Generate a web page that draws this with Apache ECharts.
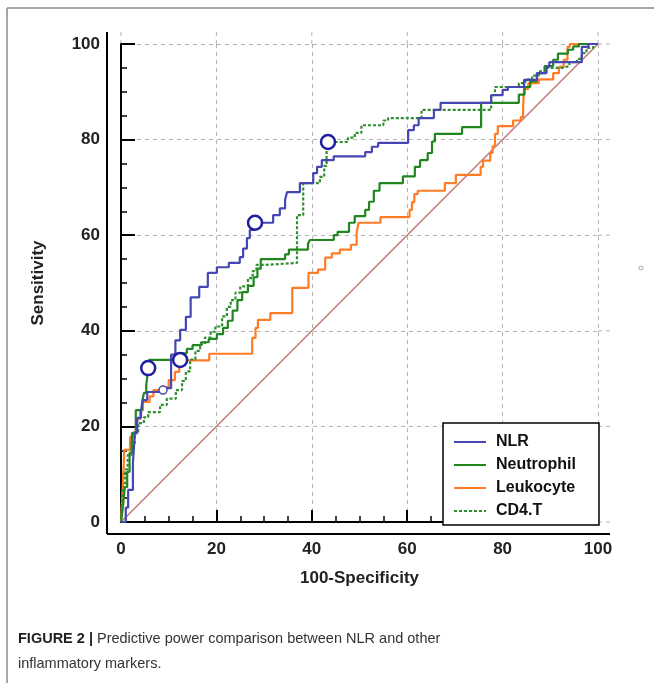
<!DOCTYPE html>
<html><head><meta charset="utf-8">
<script src="https://cdn.jsdelivr.net/npm/echarts@6/dist/echarts.min.js"></script>
<style>html,body{margin:0;padding:0;background:#fff;}#c{width:654px;height:683px;}</style>
</head><body><div id="c"></div>
<script>
const seriesNames = ['NLR', 'Neutrophil', 'Leukocyte', 'CD4.T'];
const xTicks = [0, 20, 40, 60, 80, 100];
const yTicks = [0, 20, 40, 60, 80, 100];
const xTitle = '100-Specificity';
const yTitle = 'Sensitivity';
const refLine = [[0, 0], [100, 100]];

const nlr = [[0,0],[1,0],[1,3],[1.5,3],[1.5,6.7],[2.5,6.7],[2.5,12.3],[2.9,12.3],[2.9,18.6],[3.4,18.6],[3.4,21.8],[4.2,21.8],[4.2,23.4],[4.6,23.4],[4.6,25.5],[5.5,25.5],[5.5,27.2],[8.8,27.2],[8.8,28],[10.5,28],[10.5,35],[11.4,35],[11.4,38],[12.4,38],[12.4,40.2],[13.6,40.2],[13.6,42.9],[14.6,42.9],[14.6,47],[16.4,47],[16.4,49.2],[18.2,49.2],[18.2,52.1],[20.1,52.1],[20.1,53.3],[22.6,53.3],[22.6,54.2],[24.9,54.2],[24.9,55.4],[25.6,55.4],[25.6,57.2],[26.4,57.2],[26.4,59.4],[27,59.4],[27,61.1],[27.8,61.1],[27.8,62.6],[31.9,62.6],[31.9,64.2],[33.3,64.2],[33.3,65.6],[34.4,65.6],[34.4,67.4],[34.8,67.4],[34.8,69],[37.5,69],[37.5,70.9],[40.3,70.9],[40.3,73],[41.1,73],[41.1,74.3],[42.1,74.3],[42.1,75.7],[44.6,75.7],[44.6,76.5],[51.2,76.5],[51.2,77.4],[52.6,77.4],[52.6,78.5],[53.9,78.5],[53.9,79.3],[60.2,79.3],[60.2,82],[61.4,82],[61.4,83],[62.4,83],[62.4,84.5],[65.6,84.5],[65.6,86.2],[67,86.2],[67,87.7],[77.6,87.7],[77.6,89.3],[80,89.3],[80,90.4],[81.1,90.4],[81.1,91],[84.5,91],[84.5,92.5],[87.2,92.5],[87.2,93.9],[89.2,93.9],[89.2,95.2],[89.8,95.2],[89.8,96.2],[96.6,96.2],[96.6,99.4],[98,99.4],[98,100],[100,100]];

const neutrophil = [[0,0],[0.4,0],[0.4,3.1],[0.8,3.1],[0.8,7.3],[1.3,7.3],[1.3,10.5],[1.8,10.5],[1.8,14.5],[2.3,14.5],[2.3,18.6],[3.1,18.6],[3.1,23.4],[4.4,23.4],[4.4,24.9],[4.8,24.9],[4.8,27],[5.3,27],[5.3,28.7],[5.6,28.7],[5.6,31.2],[5.9,31.2],[5.9,33.9],[11,33.9],[11,34.3],[12.8,34.3],[12.8,35.3],[13.8,35.3],[13.8,36.2],[15,36.2],[15,37],[16.8,37],[16.8,37.6],[18.4,37.6],[18.4,38.3],[20.1,38.3],[20.1,39.3],[21.4,39.3],[21.4,40.6],[22.4,40.6],[22.4,42.1],[23.4,42.1],[23.4,44.2],[24.4,44.2],[24.4,46.4],[25.4,46.4],[25.4,48.1],[26.6,48.1],[26.6,49.4],[27.8,49.4],[27.8,51.2],[28.6,51.2],[28.6,53],[29.3,53],[29.3,55],[34.4,55],[34.4,56],[35.2,56],[35.2,57],[39.2,57],[39.2,58.2],[39.6,58.2],[39.6,59],[44.6,59],[44.6,60],[45.4,60],[45.4,60.7],[47.8,60.7],[47.8,62.6],[49,62.6],[49,64],[51.2,64],[51.2,65.3],[52,65.3],[52,67],[53,67],[53,69.3],[54.2,69.3],[54.2,70.9],[59.1,70.9],[59.1,72.3],[61.6,72.3],[61.6,74.3],[62.7,74.3],[62.7,75.7],[64.3,75.7],[64.3,77.2],[65.2,77.2],[65.2,79.6],[65.8,79.6],[65.8,81.2],[71.5,81.2],[71.5,82.6],[75.5,82.6],[75.5,87.7],[83.4,87.7],[83.4,89.4],[84.6,89.4],[84.6,91],[85.8,91],[85.8,92.2],[87.2,92.2],[87.2,93.9],[88.8,93.9],[88.8,95.4],[90.6,95.4],[90.6,96.7],[91.6,96.7],[91.6,98],[93.7,98],[93.7,98.8],[94.8,98.8],[94.8,99.5],[96,99.5],[96,100],[100,100]];

const leukocyte = [[0,0],[0.4,0],[0.4,8],[0.7,8],[0.7,15.1],[1.9,15.1],[1.9,17.8],[2.6,17.8],[2.6,18.8],[3.3,18.8],[3.3,21.5],[4,21.5],[4,23.4],[4.6,23.4],[4.6,25.1],[6,25.1],[6,26.3],[6.8,26.3],[6.8,27.6],[8.4,27.6],[8.4,28.2],[10,28.2],[10,29.7],[11.3,29.7],[11.3,31.4],[12.2,31.4],[12.2,33.8],[18.5,33.8],[18.5,35.2],[27.5,35.2],[27.5,38.5],[28.2,38.5],[28.2,40.6],[28.7,40.6],[28.7,42.3],[31.3,42.3],[31.3,43.7],[35.9,43.7],[35.9,49],[39.3,49],[39.3,52.1],[41.3,52.1],[41.3,52.8],[42.8,52.8],[42.8,55.3],[44.2,55.3],[44.2,56.2],[45.9,56.2],[45.9,57],[48.2,57],[48.2,58],[49.4,58],[49.4,60.5],[49.8,60.5],[49.8,62.6],[54.4,62.6],[54.4,63.8],[60.5,63.8],[60.5,65.3],[61,65.3],[61,66.9],[61.5,66.9],[61.5,68.6],[62.2,68.6],[62.2,69.3],[67.9,69.3],[67.9,70.9],[70.2,70.9],[70.2,72.6],[75.4,72.6],[75.4,74.3],[75.9,74.3],[75.9,75.6],[77.4,75.6],[77.4,77.2],[77.9,77.2],[77.9,78.6],[78.4,78.6],[78.4,81.2],[79,81.2],[79,82.8],[82.2,82.8],[82.2,84],[83.8,84],[83.8,84.7],[84.3,84.7],[84.3,86.8],[84.5,86.8],[84.5,90.6],[85.4,90.6],[85.4,91.8],[87.6,91.8],[87.6,92.6],[90.6,92.6],[90.6,93.9],[91.8,93.9],[91.8,95.2],[92.8,95.2],[92.8,96.7],[93.6,96.7],[93.6,99.4],[94.1,99.4],[94.1,100],[100,100]];

const cd4t = [[0,0],[0.4,0],[0.4,7.3],[0.9,7.3],[0.9,11],[1.4,11],[1.4,14],[2.2,14],[2.2,16.5],[2.9,16.5],[2.9,18.6],[3.6,18.6],[3.6,20.7],[4.8,20.7],[4.8,21.9],[5.7,21.9],[5.7,23],[8.2,23],[8.2,24.5],[9.6,24.5],[9.6,25.8],[11.5,25.8],[11.5,27.6],[12.8,27.6],[12.8,29.5],[13.6,29.5],[13.6,31.5],[14.5,31.5],[14.5,34],[15.6,34],[15.6,35.8],[16.6,35.8],[16.6,37.2],[17.6,37.2],[17.6,38.6],[18.8,38.6],[18.8,39.8],[19.8,39.8],[19.8,40.9],[21.2,40.9],[21.2,43],[22.2,43],[22.2,45],[23,45],[23,46.4],[24,46.4],[24,48],[25,48],[25,49.3],[26.6,49.3],[26.6,51],[27.6,51],[27.6,52.5],[28.4,52.5],[28.4,53.8],[30.4,53.8],[30.4,54.2],[36.9,54.2],[36.9,64.2],[38.2,64.2],[38.2,70.9],[41.7,70.9],[41.7,72.2],[42.6,72.2],[42.6,74.5],[43.1,74.5],[43.1,79.5],[47.6,79.5],[47.6,80.4],[49,80.4],[49,81.4],[50.4,81.4],[50.4,83],[55,83],[55,84],[56,84],[56,84.5],[63,84.5],[63,86.2],[77.6,86.2],[77.6,89.3],[78.4,89.3],[78.4,91],[83.4,91],[83.4,91.8],[84.8,91.8],[84.8,92.6],[86.2,92.6],[86.2,93.4],[87.6,93.4],[87.6,94.3],[89.2,94.3],[89.2,95],[92.6,95],[92.6,95.4],[94,95.4],[94,96.2],[95.6,96.2],[95.6,96.9],[96.6,96.9],[96.6,98.1],[97.6,98.1],[97.6,99.2],[99,99.2],[99,100],[100,100]];

const cutoffBig = [[5.7,32.2],[12.4,33.9],[28.1,62.6],[43.4,79.5]];
const cutoffSmall = [[8.8,27.6]];

const colors = ['#4646b4', '#21861f', '#ff7b26', '#2e8f2e'];
const FONT = '"Liberation Sans", Arial, sans-serif';

const chart = echarts.init(document.getElementById('c'), null, {renderer: 'canvas'});

function curve(name, data, color, type) {
  return {
    name: name, type: 'line', data: data, symbol: 'none', animation: false,
    lineStyle: {color: color, width: 2.2, type: type || 'solid'},
    itemStyle: {color: color}, z: 3
  };
}

const option = {
  animation: false,
  backgroundColor: '#fff',
  grid: {left: 121, top: 44, width: 477, height: 478, containLabel: false},
  xAxis: {
    type: 'value', min: xTicks[0], max: xTicks[xTicks.length - 1], interval: xTicks[1] - xTicks[0],
    offset: 12,
    name: xTitle, nameLocation: 'middle', nameGap: 36,
    nameTextStyle: {fontFamily: FONT, fontSize: 17, fontWeight: 'bold', color: '#222'},
    axisLine: {show: true, lineStyle: {color: '#000', width: 2}},
    axisTick: {show: true, inside: true, length: 12, lineStyle: {color: '#000', width: 2}},
    minorTick: {show: true, splitNumber: 4, length: 6, lineStyle: {color: '#000', width: 1.5}},
    axisLabel: {margin: 7, fontFamily: FONT, fontSize: 17, fontWeight: 'bold', color: '#222'},
    splitLine: {show: true, lineStyle: {color: '#b4b4b4', type: [4, 4], width: 1}}
  },
  yAxis: {
    type: 'value', min: yTicks[0], max: yTicks[yTicks.length - 1], interval: yTicks[1] - yTicks[0],
    offset: 14,
    name: yTitle, nameLocation: 'middle', nameGap: 60,
    nameTextStyle: {fontFamily: FONT, fontSize: 17, fontWeight: 'bold', color: '#222'},
    axisLine: {show: true, lineStyle: {color: '#000', width: 2}},
    axisTick: {show: true, inside: true, length: 14, lineStyle: {color: '#000', width: 2}},
    minorTick: {show: true, splitNumber: 4, length: 6, lineStyle: {color: '#000', width: 1.5}},
    axisLabel: {margin: 7, fontFamily: FONT, fontSize: 17, fontWeight: 'bold', color: '#222'},
    splitLine: {show: true, lineStyle: {color: '#b4b4b4', type: [4, 4], width: 1}}
  },
  legend: {
    show: true, data: seriesNames, orient: 'vertical', left: 443, top: 423,
    borderColor: '#000', borderWidth: 1.5, padding: [11, 23, 6, 10], backgroundColor: '#fff',
    itemWidth: 32, itemHeight: 14, itemGap: 7,
    itemStyle: {opacity: 0},
    textStyle: {fontFamily: FONT, fontSize: 16, fontWeight: 'bold', color: '#111', lineHeight: 14, padding: [0, 0, 0, 5]},
    selectedMode: false
  },
  series: [
    {name: 'ref', type: 'line', data: refLine, symbol: 'none', lineStyle: {color: '#c27a70', width: 1.5}, z: 2, silent: true},
    curve(seriesNames[2], leukocyte, colors[2]),
    curve(seriesNames[1], neutrophil, colors[1]),
    curve(seriesNames[3], cd4t, colors[3], [3, 2]),
    curve(seriesNames[0], nlr, colors[0]),
    {name: 'cutoff', type: 'scatter', data: cutoffBig, symbol: 'circle', symbolSize: 14, z: 5,
      itemStyle: {color: '#fff', borderColor: '#1f1fa0', borderWidth: 2.5, opacity: 1}},
    {name: 'cutoff2', type: 'scatter', data: cutoffSmall, symbol: 'circle', symbolSize: 8, z: 5,
      itemStyle: {color: '#fff', borderColor: '#4a4ab0', borderWidth: 1.5, opacity: 1}}
  ]
};
chart.setOption(option);

// Decorations: extended axis lines, extended gridlines, figure frame, caption
const P = v => chart.convertToPixel({gridIndex: 0}, v);
const p00 = P([xTicks[0], yTicks[0]]);
const p11 = P([xTicks[xTicks.length - 1], yTicks[yTicks.length - 1]]);
const axX = p00[0] - 14, axY = p00[1] + 12, ext = 12;
const g = [];
g.push({type: 'line', shape: {x1: axX, y1: p11[1] - ext, x2: axX, y2: axY}, style: {stroke: '#000', lineWidth: 2}, z: 10});
g.push({type: 'line', shape: {x1: axX, y1: axY, x2: p11[0] + ext, y2: axY}, style: {stroke: '#000', lineWidth: 2}, z: 10});
xTicks.forEach(v => {
  const p = P([v, yTicks[yTicks.length - 1]]);
  g.push({type: 'line', shape: {x1: p[0], y1: p[1], x2: p[0], y2: p[1] - ext}, style: {stroke: '#b4b4b4', lineWidth: 1, lineDash: [4, 4]}, z: 0});
});
yTicks.forEach(v => {
  const p = P([xTicks[xTicks.length - 1], v]);
  g.push({type: 'line', shape: {x1: p[0], y1: p[1], x2: p[0] + ext, y2: p[1]}, style: {stroke: '#b4b4b4', lineWidth: 1, lineDash: [4, 4]}, z: 0});
});
// frame
g.push({type: 'line', shape: {x1: 7, y1: 8, x2: 654, y2: 8}, style: {stroke: '#8a8a8a', lineWidth: 1.5}});
g.push({type: 'line', shape: {x1: 7, y1: 8, x2: 7, y2: 683}, style: {stroke: '#8a8a8a', lineWidth: 1.5}});
g.push({type: 'circle', shape: {cx: 641, cy: 268, r: 2}, style: {fill: 'none', stroke: '#aaa', lineWidth: 1}});
// caption
g.push({type: 'text', left: 18, top: 631, style: {
  text: '{b|FIGURE 2 |} Predictive power comparison between NLR and other',
  fontFamily: FONT, fontSize: 14.5, fill: '#333',
  rich: {b: {fontFamily: FONT, fontSize: 14.5, fontWeight: 'bold', fill: '#222'}}
}});
g.push({type: 'text', left: 18, top: 656, style: {
  text: 'inflammatory markers.', fontFamily: FONT, fontSize: 14.5, fill: '#333'
}});
chart.setOption({graphic: g});
</script>
</body></html>
